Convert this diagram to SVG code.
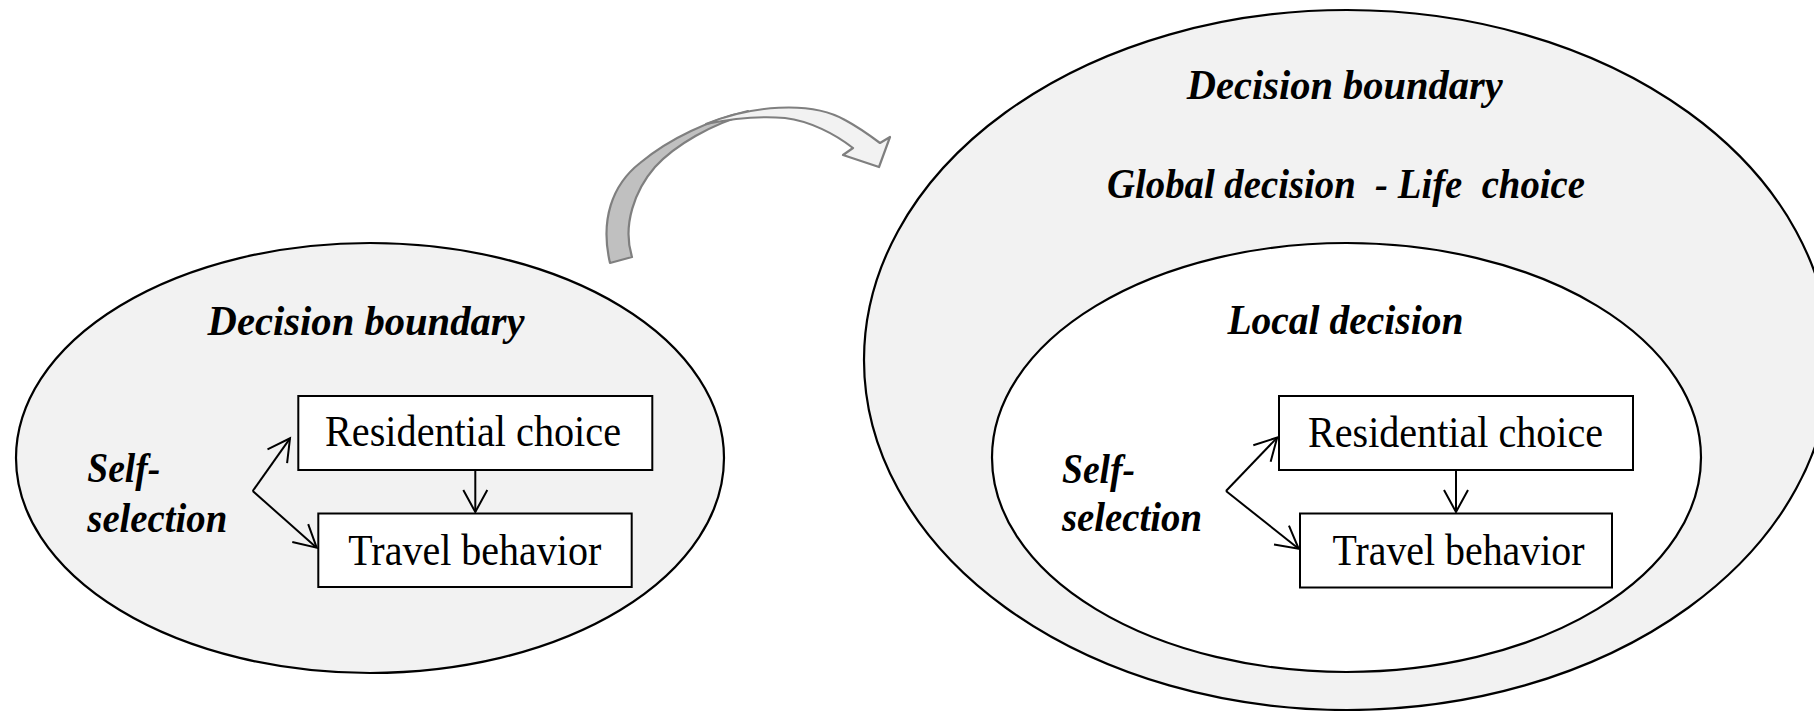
<svg xmlns="http://www.w3.org/2000/svg" width="1814" height="711" viewBox="0 0 1814 711">
<style>
.ell{stroke:#000;stroke-width:2.2}
.box{fill:#fff;stroke:#000;stroke-width:2}
.bi{font-family:"Liberation Serif","Times New Roman",serif;font-weight:bold;font-style:italic;font-size:43px;fill:#000}
.rg{font-family:"Liberation Serif","Times New Roman",serif;font-size:44px;fill:#000}
.con{stroke:#000;stroke-width:2;fill:none}
.arr{stroke:#7f7f7f;stroke-width:2.2;stroke-linejoin:round}
</style>
<defs>
<marker id="open" markerUnits="userSpaceOnUse" viewBox="-25 -15 28 30" markerWidth="28" markerHeight="30" refX="0" refY="0" orient="auto" overflow="visible">
<path d="M-22,-12 L0,0 L-22,12" fill="none" stroke="#000" stroke-width="2"/>
</marker>
</defs>
<rect width="1814" height="711" fill="#fff"/>

<g id="left-boundary">
<ellipse class="ell" cx="370" cy="458" rx="354" ry="215" fill="#f2f2f2"/>
<text class="bi" x="207.6" y="335" textLength="317" lengthAdjust="spacingAndGlyphs">Decision boundary</text>
</g>
<g id="left-self-selection">
<text class="bi" x="87.3" y="482" textLength="73" lengthAdjust="spacingAndGlyphs">Self-</text>
<text class="bi" x="87.3" y="532" textLength="140" lengthAdjust="spacingAndGlyphs">selection</text>
</g>
<g id="left-residential">
<rect class="box" x="298.3" y="396" width="354" height="74"/>
<text class="rg" x="325" y="446" textLength="296" lengthAdjust="spacingAndGlyphs">Residential choice</text>
</g>
<g id="left-travel">
<rect class="box" x="318.3" y="513.5" width="313.4" height="73.5"/>
<text class="rg" x="348.3" y="565" textLength="253" lengthAdjust="spacingAndGlyphs">Travel behavior</text>
</g>

<g id="transition-arrow">
<path class="arr" fill="#c0c0c0" d="M610,263 C600,220 612,185 640,163 C670,138 710,120 748,111 L748,114 C712,124 675,145 655,167 C635,190 622,225 632,257 Z"/>
<path class="arr" fill="#f2f2f2" d="M706,124 C750,106 810,100 845,120 C860,128 872,137 880,143 L890,137 L879,167 L843,155 L853,148 C835,134 810,121 785,118 C762,116 735,118 706,124 Z"/>
</g>

<g id="global-boundary">
<ellipse class="ell" cx="1347" cy="360" rx="483" ry="350" fill="#f2f2f2"/>
<text class="bi" x="1186.8" y="99" textLength="316" lengthAdjust="spacingAndGlyphs">Decision boundary</text>
<text class="bi" x="1107" y="198" textLength="478" lengthAdjust="spacingAndGlyphs" style="white-space:pre">Global decision  - Life  choice</text>
</g>
<g id="local-decision">
<ellipse class="ell" cx="1346.5" cy="457.5" rx="354.5" ry="214.5" fill="#fff"/>
<text class="bi" x="1227.4" y="334" textLength="236" lengthAdjust="spacingAndGlyphs">Local decision</text>
</g>
<g id="right-self-selection">
<text class="bi" x="1062" y="483" textLength="73" lengthAdjust="spacingAndGlyphs">Self-</text>
<text class="bi" x="1062" y="531" textLength="140" lengthAdjust="spacingAndGlyphs">selection</text>
</g>
<g id="right-residential">
<rect class="box" x="1279" y="396" width="354" height="74"/>
<text class="rg" x="1308" y="446.5" textLength="295" lengthAdjust="spacingAndGlyphs">Residential choice</text>
</g>
<g id="right-travel">
<rect class="box" x="1300" y="513.5" width="312" height="74"/>
<text class="rg" x="1332.5" y="565" textLength="252" lengthAdjust="spacingAndGlyphs">Travel behavior</text>
</g>

<g id="connectors">
<line class="con" x1="252.7" y1="491" x2="290" y2="438.3" marker-end="url(#open)"/>
<line class="con" x1="252.7" y1="491" x2="316.7" y2="547.7" marker-end="url(#open)"/>
<line class="con" x1="475.3" y1="470" x2="475.3" y2="512" marker-end="url(#open)"/>
<line class="con" x1="1226" y1="491" x2="1277.2" y2="437.6" marker-end="url(#open)"/>
<line class="con" x1="1226" y1="491" x2="1298.7" y2="548.8" marker-end="url(#open)"/>
<line class="con" x1="1456" y1="470" x2="1456" y2="512" marker-end="url(#open)"/>
</g>
</svg>
